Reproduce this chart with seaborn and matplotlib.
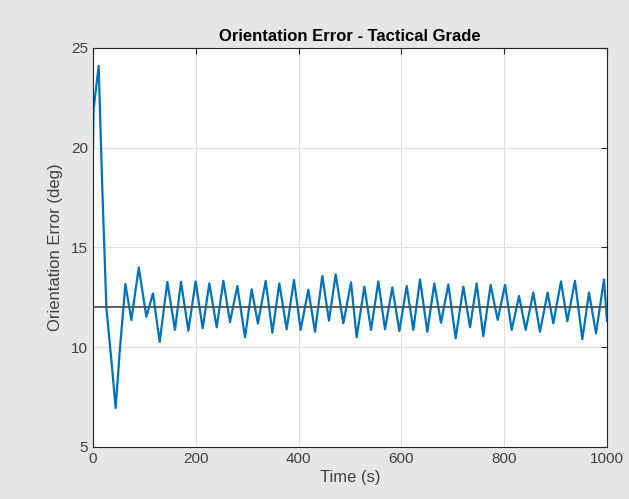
import matplotlib
matplotlib.use("Agg")
import matplotlib.pyplot as plt
import seaborn as sns
import pandas as pd

# Time (s) and orientation error (deg) at turning points
time_s = [0, 1, 11, 18, 26, 30, 37, 44, 52, 63, 74.6, 89, 103.8, 116.7, 129.7,
          144.6, 159.5, 171.2, 185.5, 199.7, 213.4, 226.3, 240.6, 253.6, 266.5,
          280.8, 295.7, 308.7, 320.8, 336, 348.9, 362.5, 376.8, 391, 404,
          418.9, 431.9, 446.1, 459.1, 472.1, 487, 502, 513, 527.9, 540.9,
          555.1, 568.1, 582.3, 596, 610.3, 623.2, 636.2, 650.4, 664, 677,
          691.3, 705.6, 720.5, 733.5, 746.4, 759.3, 773.6, 787.3, 801.6, 814.6,
          828.8, 841.8, 856.6, 869.6, 884.5, 895.5, 910.5, 922.8, 937.7, 952,
          965, 978.6, 994.2, 1000]
error_deg = [20.0, 21.9, 24.1, 18.0, 12.0, 10.9, 9.0, 6.95, 9.8, 13.17, 11.36, 14.0, 11.53, 12.7, 10.27,
             13.27, 10.87, 13.28, 10.83, 13.3, 10.95, 13.2, 11.0, 13.33, 11.26,
             13.07, 10.5, 12.9, 11.19, 13.33, 10.73, 13.2, 10.9, 13.37, 10.87,
             12.88, 10.78, 13.57, 11.33, 13.65, 11.2, 13.25, 10.5, 13.04, 10.87,
             13.3, 10.9, 13.0, 10.81, 13.07, 10.87, 13.4, 10.78, 13.2, 11.23,
             13.15, 10.45, 13.04, 11.0, 13.2, 10.56, 13.12, 11.37, 13.12, 10.87,
             12.57, 10.87, 12.74, 10.78, 12.74, 11.2, 13.3, 11.3, 13.33, 10.4,
             12.74, 10.7, 13.4, 11.3]
mean_error = 12.0

x_ticks = [0, 200, 400, 600, 800, 1000]
y_ticks = [5, 10, 15, 20, 25]

title = "Orientation Error - Tactical Grade"
x_label = "Time (s)"
y_label = "Orientation Error (deg)"

df = pd.DataFrame({"t": time_s, "err": error_deg})

sns.set_style("white")
plt.rcParams["font.family"] = ["Liberation Sans", "DejaVu Sans"]

fig = plt.figure(figsize=(6.29, 4.99), dpi=100, facecolor="#e6e6e6")
ax = fig.add_axes([93 / 629, 1 - 447 / 499, (607 - 93) / 629, (447 - 48) / 499])
ax.set_facecolor("white")

sns.lineplot(data=df, x="t", y="err", ax=ax, color="#0072BD", linewidth=1.6,
             estimator=None, sort=False, solid_joinstyle="round",
             solid_capstyle="round")
ax.axhline(mean_error, color="#505050", linewidth=1.3, zorder=3)

ax.set_xlim(0, 1000)
ax.set_ylim(5, 25)
ax.set_xticks(x_ticks)
ax.set_yticks(y_ticks)
ax.grid(True, color="#dedede", linewidth=0.8)
ax.set_axisbelow(True)

for s in ax.spines.values():
    s.set_visible(True)
    s.set_color("#262626")
    s.set_linewidth(0.8)

ax.tick_params(direction="in", top=True, right=True, length=4, width=0.8,
               colors="#262626", labelsize=11, labelcolor="#404040")
ax.set_title(title, fontsize=12, fontweight="bold", color="black", pad=5)
ax.set_xlabel(x_label, fontsize=12, color="#404040", labelpad=3)
ax.set_ylabel(y_label, fontsize=12, color="#404040", labelpad=6)

fig.savefig("out.png", dpi=100, facecolor=fig.get_facecolor())
